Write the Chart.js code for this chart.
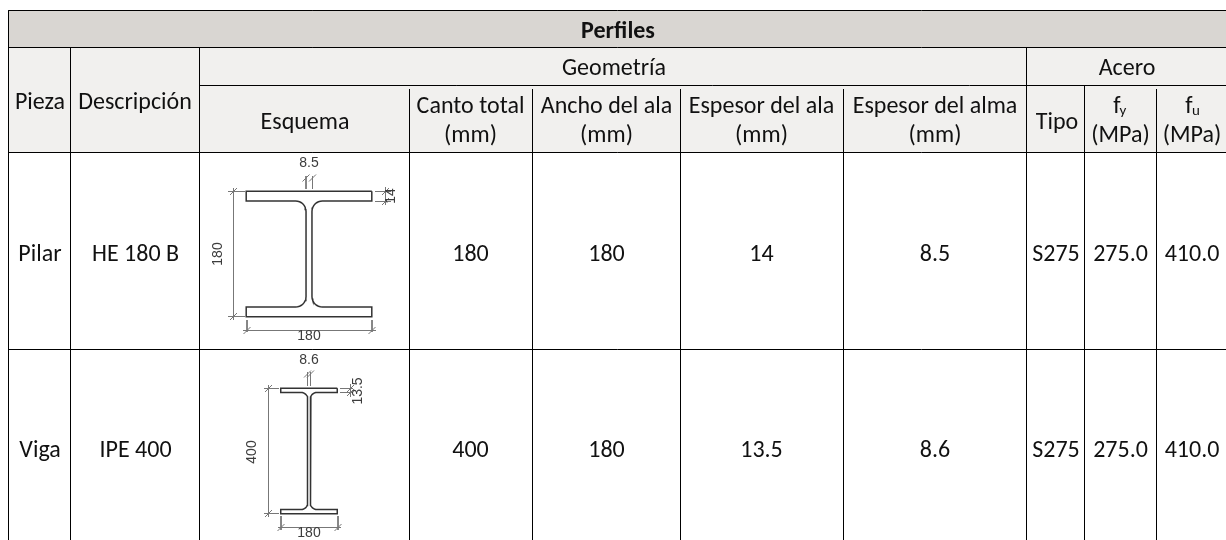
<!DOCTYPE html>
<html lang="es">
<head>
<meta charset="utf-8">
<title>Perfiles</title>
<script src="https://cdn.jsdelivr.net/npm/chart.js@4"></script>
<style>html,body{margin:0;padding:0;background:#fff}canvas{display:block}</style>
</head>
<body>
<canvas id="c" width="1226" height="540"></canvas>
<script>
// ---- Table content ----
const title = "Perfiles";
const piezas = ["Pilar", "Viga"];
const descripciones = ["HE 180 B", "IPE 400"];
const cantoTotal = [180, 400];
const anchoAla = [180, 180];
const espesorAla = [14, 13.5];
const espesorAlma = [8.5, 8.6];
const tipoAcero = ["S275", "S275"];
const fy = ["275.0", "275.0"];
const fu = ["410.0", "410.0"];

// ---- Layout (pixel units of the chart's linear scales) ----
const W = 1226, H = 540;
const LEFT = 8.5, C1 = 70.5, C2 = 199.5, C3 = 409.5, C4 = 532.5, C5 = 680.5, C6 = 843.5, C7 = 1026.5, C8 = 1084.5, C9 = 1156.5;
const R0 = 10.5, R1 = 47.5, R2 = 85.5, R3 = 152.5, R4 = 349.5;
const INNER_TOP = 89;
const rowMidY = [255, 451];
const beamCy = [254, 451];
const beamCx = 309;
const beamHeightPx = 125.6;
const filletMm = [15, 21];

const INK = "#111111", TITLE_BG = "#D9D6D2", HEAD_BG = "#F1F0EE";
const FONT = 'Carlito, Lato, "Open Sans", sans-serif';
const DIM_FONT = '"Liberation Sans", Arial, sans-serif';
const BODY_SIZE = 24;

function segs(list) {
  const out = [];
  list.forEach(s => { out.push({x: s[0], y: s[1]}, {x: s[2], y: s[3]}, {x: NaN, y: NaN}); });
  return out;
}
const gridPts = segs([
  [LEFT, R0, W, R0], [LEFT, R1, W, R1], [C2, R2, W, R2], [LEFT, R3, W, R3], [LEFT, R4, W, R4],
  [LEFT, R0, LEFT, H], [C1, R1, C1, H], [C2, R1, C2, H], [C7, R1, C7, H], [C8, R2, C8, H],
  [C3, INNER_TOP, C3, R3], [C4, INNER_TOP, C4, R3], [C5, INNER_TOP, C5, R3], [C6, INNER_TOP, C6, R3], [C9, INNER_TOP, C9, R3],
  [C3, R3, C3, H], [C4, R3, C4, H], [C5, R3, C5, H], [C6, R3, C6, H], [C9, R3, C9, H]
]);

function beamOutline(i) {
  const s = beamHeightPx / cantoTotal[i];
  const h = cantoTotal[i] * s, b = anchoAla[i] * s, tf = espesorAla[i] * s, tw = espesorAlma[i] * s, r = filletMm[i] * s;
  const cx = beamCx, cy = beamCy[i];
  const top = cy - h / 2, bot = cy + h / 2;
  const right = [[b / 2, top], [b / 2, top + tf], [tw / 2 + r, top + tf]];
  for (let k = 1; k <= 8; k++) {
    const a = Math.PI / 2 * k / 8;
    right.push([tw / 2 + r - r * Math.sin(a), top + tf + r - r * Math.cos(a)]);
  }
  for (let k = 0; k <= 8; k++) {
    const a = Math.PI / 2 * k / 8;
    right.push([tw / 2 + r - r * Math.cos(a), bot - tf - r + r * Math.sin(a)]);
  }
  right.push([b / 2, bot - tf], [b / 2, bot]);
  const pts = right.map(p => ({x: cx + p[0], y: p[1]}));
  const mirrored = right.slice().reverse().map(p => ({x: cx - p[0], y: p[1]}));
  return pts.concat(mirrored, [pts[0], {x: NaN, y: NaN}]);
}
const beamPts = beamOutline(0).concat(beamOutline(1));

function tick(x, y) { return [x - 3.5, y + 3.5, x + 3.5, y - 3.5]; }
const dimPts = segs([
  // HE 180 B
  [233.5, 188, 233.5, 320], [228, 191.5, 245, 191.5], [228, 316.5, 245, 316.5], tick(233.5, 191.5), tick(233.5, 316.5),
  [247, 320, 247, 332], [372, 320, 372, 332], [243, 330.5, 376, 330.5], tick(247, 330.5), tick(372, 330.5),
  [306, 176, 306, 189], [312.5, 176, 312.5, 189], tick(306, 178), tick(312.5, 178),
  [375, 191.5, 391, 191.5], [375, 201.5, 391, 201.5], [385.5, 187, 385.5, 205], tick(385.5, 191.5), tick(385.5, 201.5),
  // IPE 400
  [268.5, 385, 268.5, 517], [264, 388.5, 279, 388.5], [264, 513.5, 279, 513.5], tick(268.5, 388.5), tick(268.5, 513.5),
  [281, 516, 281, 530], [338, 516, 338, 530], [278, 527.5, 341, 527.5], tick(281, 527.5), tick(338, 527.5),
  [307.5, 372, 307.5, 386], [310.5, 372, 310.5, 386], tick(307.5, 374), tick(310.5, 374),
  [340, 388.5, 353, 388.5], [340, 392.5, 353, 392.5], [350.5, 384, 350.5, 397], tick(350.5, 388.5), tick(350.5, 392.5)
]);

const tablePlugin = {
  id: "table",
  beforeDatasetsDraw(chart) {
    const {ctx, scales: {x, y}} = chart;
    const rect = (x0, y0, x1, y1, c) => {
      ctx.fillStyle = c;
      ctx.fillRect(x.getPixelForValue(x0), y.getPixelForValue(y0), x.getPixelForValue(x1) - x.getPixelForValue(x0), y.getPixelForValue(y1) - y.getPixelForValue(y0));
    };
    rect(LEFT, R0, W, R1, TITLE_BG);
    rect(LEFT, R1, W, R3, HEAD_BG);
  },
  afterDatasetsDraw(chart) {
    const {ctx, scales: {x, y}} = chart;
    const put = (t, px, py, opts = {}) => {
      const size = opts.size || BODY_SIZE;
      ctx.save();
      ctx.translate(x.getPixelForValue(px), y.getPixelForValue(py));
      if (opts.rot) ctx.rotate(opts.rot);
      ctx.font = (opts.bold ? "bold " : "") + size + "px " + (opts.font || FONT);
      ctx.fillStyle = opts.color || INK;
      ctx.textAlign = "center";
      ctx.textBaseline = "middle";
      ctx.fillText(t, 0, 0);
      ctx.restore();
    };
    put(title, 618, 31.5, {bold: true});
    put("Geometría", 614, 69);
    put("Acero", 1127, 69);
    put("Pieza", 40, 103);
    put("Descripción", 135, 103);
    put("Esquema", 305, 122.5);
    const hdr = [["Canto total", 470.5], ["Ancho del ala", 606.5], ["Espesor del ala", 761.5], ["Espesor del alma", 935]];
    hdr.forEach(h => { put(h[0], h[1], 107); put("(mm)", h[1], 136); });
    put("Tipo", 1057, 122.5);
    put("f", 1117, 107); put("y", 1123, 111, {size: 15});
    put("f", 1189, 107); put("u", 1196, 111, {size: 15});
    put("(MPa)", 1120.5, 136); put("(MPa)", 1192, 136);
    piezas.forEach((_, i) => {
      const my = rowMidY[i];
      put(piezas[i], 40, my);
      put(descripciones[i], 135.5, my);
      put(String(cantoTotal[i]), 470.5, my);
      put(String(anchoAla[i]), 606.5, my);
      put(String(espesorAla[i]), 761.5, my);
      put(String(espesorAlma[i]), 935, my);
      put(tipoAcero[i], 1056, my);
      put(fy[i], 1120.5, my);
      put(fu[i], 1192, my);
    });
    const d = {font: DIM_FONT, size: 14, color: "#3c3c3c"};
    const v = Object.assign({rot: -Math.PI / 2}, d);
    put(espesorAlma[0].toString(), 309, 163.5, d);
    put(String(anchoAla[0]), 309, 336.5, d);
    put(String(cantoTotal[0]), 218, 254, v);
    put(String(espesorAla[0]), 391, 196, v);
    put(espesorAlma[1].toString(), 309, 360, d);
    put(String(anchoAla[1]), 309, 533, d);
    put(String(cantoTotal[1]), 252, 452, v);
    put(espesorAla[1].toString(), 358, 391, v);
  }
};

new Chart(document.getElementById("c"), {
  type: "scatter",
  data: {
    datasets: [
      {label: "dim", data: dimPts, showLine: true, borderColor: "#777777", borderWidth: 1, pointRadius: 0},
      {label: "beam", data: beamPts, showLine: true, borderColor: "#333333", borderWidth: 1.5, pointRadius: 0},
      {label: "grid", data: gridPts, showLine: true, borderColor: "#000000", borderWidth: 1, pointRadius: 0}
    ]
  },
  options: {
    responsive: false,
    animation: false,
    layout: {padding: 0},
    plugins: {legend: {display: false}, tooltip: {enabled: false}, title: {display: false}},
    scales: {
      x: {type: "linear", min: 0, max: W, display: false},
      y: {type: "linear", min: 0, max: H, reverse: true, display: false}
    }
  },
  plugins: [tablePlugin]
});
</script>
</body>
</html>
